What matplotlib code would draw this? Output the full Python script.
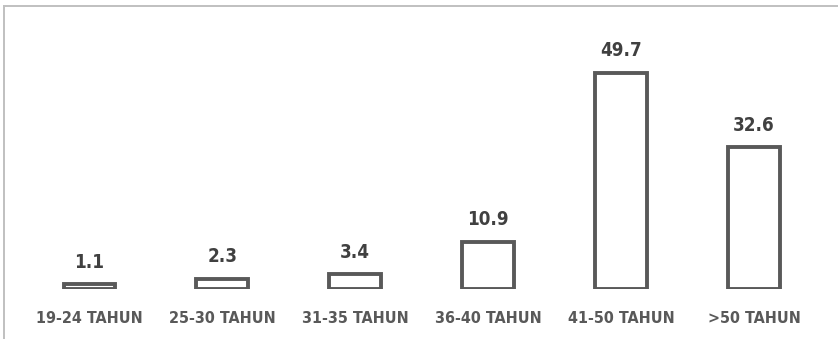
import matplotlib.pyplot as plt
from matplotlib.lines import Line2D

kategori = ["19-24 TAHUN", "25-30 TAHUN", "31-35 TAHUN", "36-40 TAHUN", "41-50 TAHUN", ">50 TAHUN"]
persen = [1.1, 2.3, 3.4, 10.9, 49.7, 32.6]

plt.rcParams["font.family"] = ["DejaVu Sans"]
plt.rcParams["font.stretch"] = "condensed"

fig = plt.figure(figsize=(8.38, 3.39), dpi=100)
ax = fig.add_axes([0, 0.1475, 1, 0.77])

x = range(len(kategori))
ax.bar(x, persen, width=0.39, facecolor="white", edgecolor="#595959", linewidth=2.8)

for i, v in enumerate(persen):
    ax.annotate(f"{v:.1f}", (i, v), xytext=(0, 9), textcoords="offset points",
                ha="center", va="bottom", fontsize=13.5, fontweight="bold", color="#404040")

ax.set_xlim(-0.673, 5.632)
ax.set_ylim(0, 60)
ax.set_xticks(list(x), kategori, fontsize=11.5, fontweight="bold", color="#595959")
ax.tick_params(axis="x", length=0, pad=16)
ax.set_yticks([])
for s in ax.spines.values():
    s.set_visible(False)

# grey frame lines along the top and left edge
fig.add_artist(Line2D([0.005, 1], [0.983, 0.983], color="#c0c0c0", linewidth=1.4))
fig.add_artist(Line2D([0.005, 0.005], [0, 0.983], color="#c0c0c0", linewidth=1.4))

fig.savefig("out.png", dpi=100)
